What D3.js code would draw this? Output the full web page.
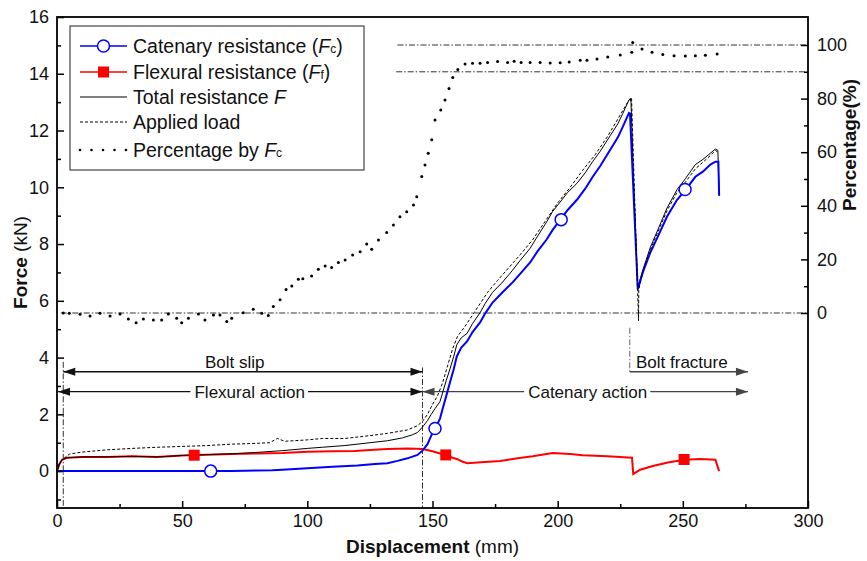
<!DOCTYPE html>
<html><head><meta charset="utf-8">
<script src="https://cdn.jsdelivr.net/npm/d3@7"></script>
<style>body{margin:0;background:#fff} svg{display:block} text{font-family:"Liberation Sans",Arial,sans-serif;fill:#111}</style>
</head><body><svg id="c" width="867" height="561"></svg>
<script>
// ---------------- data ----------------
const catenary = [[0,0],[10,0],[20,0],[30,0],[40,0],[50,0],[60,0],[70,0],[80,0.02],[86,0.03],[90,0.05],[100,0.1],[110,0.15],[120,0.2],[127,0.25],[132,0.28],[136,0.36],[140,0.45],[144,0.57],[146,0.72],[148,0.95],[149.5,1.25],[151,1.5],[153,1.85],[154,2.18],[155.5,2.65],[157,3.13],[158.5,3.6],[159.7,4.04],[161.5,4.35],[163.8,4.57],[166,4.9],[169,5.24],[171,5.55],[174,5.94],[178,6.3],[182,6.65],[185,6.95],[189,7.35],[192,7.75],[195.6,8.16],[198,8.5],[201,8.85],[204,9.2],[207.7,9.56],[211,9.95],[214,10.37],[217,10.75],[221,11.32],[224,11.75],[226,12.13],[228.5,12.62],[228.9,12.6],[230.3,9.8],[232,6.4],[234,7.0],[237,7.7],[240,8.26],[243.7,8.97],[247.7,9.56],[251,9.9],[255,10.37],[258,10.55],[261,10.8],[263,10.9],[264.2,10.9],[264.5,9.7]];
const flexural = [[0,0],[1,0.25],[2,0.4],[4,0.47],[10,0.5],[20,0.5],[30,0.52],[40,0.5],[50,0.55],[55,0.57],[60,0.58],[70,0.6],[80,0.62],[90,0.64],[100,0.68],[110,0.7],[119,0.71],[125,0.74],[132,0.78],[140,0.8],[146,0.78],[150,0.7],[153,0.62],[155,0.58],[158,0.47],[160,0.42],[162,0.33],[164,0.28],[168,0.3],[177,0.36],[184,0.45],[190,0.52],[198,0.64],[205,0.6],[210,0.56],[220,0.52],[228,0.48],[229.7,0.47],[230.2,-0.1],[233,0.05],[238,0.18],[244,0.3],[250.5,0.4],[257,0.43],[263,0.4],[264.5,0.0]];
const total = [[0,0],[1,0.25],[2,0.4],[4,0.47],[10,0.5],[20,0.5],[30,0.52],[40,0.5],[50,0.55],[60,0.58],[70,0.61],[80,0.66],[90,0.72],[100,0.8],[106,0.84],[115,0.9],[125,1.0],[132,1.07],[138,1.17],[142,1.28],[144,1.36],[146,1.55],[148,1.78],[149.5,2.0],[151,2.2],[153,2.45],[154,2.75],[155.5,3.2],[157,3.6],[158.5,4.05],[159.7,4.45],[161.5,4.7],[163.8,4.85],[166,5.2],[169,5.58],[171,5.9],[174,6.3],[178,6.66],[182,7.08],[185,7.42],[189,7.85],[192,8.28],[195.6,8.78],[198,9.15],[201,9.48],[204,9.82],[207.7,10.14],[211,10.51],[214,10.91],[217,11.27],[221,11.82],[224,12.23],[226,12.6],[228.5,13.08],[229,13.12],[229.3,13.0],[230.5,9.8],[232,6.45],[234,7.08],[237,7.88],[240,8.5],[243.7,9.27],[247.7,9.92],[251,10.3],[255,10.8],[258,10.98],[261,11.2],[263,11.35],[264,11.3],[264.5,9.7]];
const applied = [[0,0],[1,0.3],[2.4,0.42],[5,0.6],[10,0.67],[20,0.75],[30,0.8],[40,0.84],[50,0.87],[60,0.9],[70,0.95],[80,0.98],[85,1.0],[88,1.15],[91,1.05],[100,1.1],[106,1.15],[115,1.15],[125,1.25],[132,1.33],[140,1.45],[144,1.6],[146,1.75],[148,2.0],[150,2.35],[152,2.65],[154,3.1],[156,3.7],[158,4.3],[160,4.75],[163,5.1],[166,5.5],[169,5.9],[172,6.3],[176,6.72],[180,7.12],[185,7.62],[190,8.15],[195,8.8],[200,9.45],[205,10.0],[210,10.6],[215,11.15],[220,11.8],[225,12.55],[228,13.0],[229.5,13.17],[232.3,5.3],[232.4,6.4],[234,7.03],[237,7.8],[240,8.42],[243.7,9.18],[247.7,9.82],[251,10.18],[255,10.65],[258,10.88],[261,11.12],[263,11.3],[263.8,11.25]];
const percentage = [[2.5,0],[4.9,-0.1],[9.2,-0.5],[13.2,-1.1],[17.2,-0.1],[21.2,-1.1],[25.2,-0.4],[28.5,-2.2],[31.6,-3.6],[34.5,-2.2],[38.5,-2.6],[41.8,-2.6],[44.5,-0.4],[47.8,-2.0],[49.8,-3.6],[52.5,-2.0],[56.5,-0.4],[59.1,-2.6],[62.5,-0.7],[65.1,-0.7],[67.8,-3.2],[69.8,-2.0],[74.4,0.1],[78.4,1.4],[81.8,-0.1],[84.4,-0.9],[86.4,2.4],[89.1,4.9],[91.5,8.8],[93.8,10.1],[96.4,12.6],[98.2,12.8],[101.7,13.8],[104.4,16.3],[107.1,17.5],[109.7,17.0],[112.4,18.8],[115.1,19.8],[118.1,21.6],[121.1,22.9],[123.7,25.7],[125.7,23.8],[128.4,27.2],[131.7,30.0],[134.4,32.8],[137.0,35.9],[139.7,37.8],[142.4,40.3],[143.7,43.4],[145.7,50.9],[147.0,55.2],[148.3,59.6],[149.7,64.6],[151.0,72.0],[153.3,75.7],[155.0,79.5],[156.6,83.8],[158.1,87.9],[160.1,90.9],[163,92.9],[166,93.2],[169,93.2],[172,93.5],[176,93.8],[180,93.5],[182.6,93.9],[185.4,93.5],[189,93.5],[193,93.5],[197,93.3],[201,93.4],[204.6,93.7],[209,94.3],[211.7,94.3],[215.7,94.8],[220,95.5],[225,96.3],[229.6,97.3],[230,100.9],[233.7,98.5],[237.7,97.3],[242,96.5],[246.5,96],[251,95.9],[255,96],[259,96.2],[263.7,96.6]];
const catenaryMarkers = [[61.4,0],[151,1.5],[201.4,8.86],[250.9,9.92]];
const flexuralMarkers = [[54.8,0.56],[155.3,0.57],[250.5,0.41]];
const xTicks = [0,50,100,150,200,250,300];
const xMinor = [25,75,125,175,225,275];
const yTicks = [0,2,4,6,8,10,12,14,16];
const yMinor = [-1,1,3,5,7,9,11,13,15];
const pTicks = [0,20,40,60,80,100];
const pMinor = [10,30,50,70,90];
const legendLabels = ["Catenary resistance (", "Flexural resistance (", "Total resistance ", "Applied load", "Percentage by "];

// ---------------- layout ----------------
const svg = d3.select("#c");
const L = 57, R = 808, T = 17, B = 508;
const x = d3.scaleLinear().domain([0,300]).range([L,R]);
const y = d3.scaleLinear().domain([-1.3,16]).range([B,T]);
const yp = d3.scaleLinear().domain([(313-508)/2.68, (313-17)/2.68]).range([B,T]);

const line = d3.line().x(d=>x(d[0])).y(d=>y(d[1]));
const dashDot = "6,2,1.5,2";

// reference dash-dot lines
const ref = svg.append("g").attr("stroke","#333").attr("stroke-width",1).attr("stroke-dasharray",dashDot).attr("fill","none");
ref.append("line").attr("x1",x(136)).attr("x2",R).attr("y1",yp(100)).attr("y2",yp(100));
ref.append("line").attr("x1",x(135.5)).attr("x2",R).attr("y1",yp(90)).attr("y2",yp(90));
ref.append("line").attr("x1",x(1.5)).attr("x2",R).attr("y1",yp(0)).attr("y2",yp(0));
ref.append("line").attr("x1",x(2.5)).attr("x2",x(2.5)).attr("y1",y(3.85)).attr("y2",B);
ref.append("line").attr("x1",x(146)).attr("x2",x(146)).attr("y1",y(3.65)).attr("y2",B);
ref.append("line").attr("x1",x(228.8)).attr("x2",x(228.8)).attr("y1",y(5.05)).attr("y2",y(3.45)).attr("stroke","#666");

// annotations
function arrowHead(g, xt, yy, dir, col){
  g.append("path").attr("d",`M${xt},${yy} L${xt-dir*12},${yy-4} L${xt-dir*12},${yy+4} Z`).attr("fill",col);
}
function annot(x1, x2, yv, label, cx, above, headL, headR, col, gapped){
  const g = svg.append("g");
  const yy = y(yv);
  const t = g.append("text").attr("x",cx).attr("y",above ? yy-4 : yy+6).attr("text-anchor","middle").attr("font-size",17).text(label);
  if(gapped){
    const w = t.node().getComputedTextLength();
    g.append("line").attr("x1",x1).attr("x2",cx-w/2-4).attr("y1",yy).attr("y2",yy).attr("stroke",col).attr("stroke-width",1.3);
    g.append("line").attr("x1",cx+w/2+3).attr("x2",x2).attr("y1",yy).attr("y2",yy).attr("stroke",col).attr("stroke-width",1.3);
  } else {
    g.append("line").attr("x1",x1).attr("x2",x2).attr("y1",yy).attr("y2",yy).attr("stroke",col).attr("stroke-width",1.3);
  }
  if(headL) arrowHead(g,x1,yy,-1,col);
  if(headR) arrowHead(g,x2,yy,1,col);
}
annot(x(2.5), x(146), 3.5, "Bolt slip", x(71), true, true, true, "#111", false);
annot(x(0.4), x(146), 2.8, "Flexural action", x(77), false, true, true, "#111", true);
annot(x(146), x(276), 2.8, "Catenary action", x(212), false, true, true, "#444", true);
annot(x(228.8), x(276), 3.5, "Bolt fracture", x(249.6), true, false, true, "#444", false);

// series
svg.append("path").datum(flexural).attr("d",line).attr("fill","none").attr("stroke","#ff0000").attr("stroke-width",2);
svg.append("path").datum(total).attr("d",line).attr("fill","none").attr("stroke","#000").attr("stroke-width",1);
svg.append("path").datum(catenary).attr("d",line).attr("fill","none").attr("stroke","#0000ff").attr("stroke-width",2);
svg.append("path").datum(applied).attr("d",line).attr("fill","none").attr("stroke","#000").attr("stroke-width",1).attr("stroke-dasharray","3,2");
svg.append("g").selectAll("circle").data(percentage).join("circle")
  .attr("cx",d=>x(d[0])).attr("cy",d=>yp(d[1])).attr("r",1.5).attr("fill","#000");
svg.append("g").selectAll("rect").data(flexuralMarkers).join("rect")
  .attr("x",d=>x(d[0])-5.5).attr("y",d=>y(d[1])-5.5).attr("width",11).attr("height",11).attr("fill","#ff0000");
svg.append("g").selectAll("circle").data(catenaryMarkers).join("circle")
  .attr("cx",d=>x(d[0])).attr("cy",d=>y(d[1])).attr("r",6).attr("fill","#fff").attr("stroke","#0000ff").attr("stroke-width",1.5);

// axes
function styleAxis(g){ g.select(".domain").remove(); g.selectAll("line").attr("stroke","#000").attr("stroke-width",1.5); g.selectAll("text").attr("font-size",18).attr("font-family","Liberation Sans, Arial, sans-serif").attr("fill","#111"); }
svg.append("g").attr("transform",`translate(${L},0)`).call(d3.axisLeft(y).tickValues(yTicks).tickSize(-7).tickPadding(8).tickFormat(d3.format("d"))).call(styleAxis);
svg.append("g").attr("transform",`translate(${L},0)`).call(d3.axisLeft(y).tickValues(yMinor).tickSize(-4).tickFormat("")).call(styleAxis);
svg.append("g").attr("transform",`translate(0,${B})`).call(d3.axisBottom(x).tickValues(xTicks).tickSize(-7).tickPadding(6).tickFormat(d3.format("d"))).call(styleAxis);
svg.append("g").attr("transform",`translate(0,${B})`).call(d3.axisBottom(x).tickValues(xMinor).tickSize(-4).tickFormat("")).call(styleAxis);
svg.append("g").attr("transform",`translate(${R},0)`).call(d3.axisRight(yp).tickValues(pTicks).tickSize(-7).tickPadding(9).tickFormat(d3.format("d"))).call(styleAxis);
svg.append("g").attr("transform",`translate(${R},0)`).call(d3.axisRight(yp).tickValues(pMinor).tickSize(-4).tickFormat("")).call(styleAxis);

// frame
svg.append("rect").attr("x",L).attr("y",T).attr("width",R-L).attr("height",B-T).attr("fill","none").attr("stroke","#000").attr("stroke-width",1.8);

// axis titles
svg.append("text").attr("transform",`translate(27,${(T+B)/2}) rotate(-90)`).attr("text-anchor","middle").attr("font-size",19)
  .call(t=>{t.append("tspan").attr("font-weight","bold").text("Force"); t.append("tspan").text(" (kN)");});
svg.append("text").attr("x",(L+R)/2).attr("y",553).attr("text-anchor","middle").attr("font-size",19)
  .call(t=>{t.append("tspan").attr("font-weight","bold").text("Displacement"); t.append("tspan").text(" (mm)");});
svg.append("text").attr("transform",`translate(856,145) rotate(-90)`).attr("text-anchor","middle").attr("font-size",19).attr("font-weight","bold").text("Percentage(%)");

// legend
const lg = svg.append("g");
lg.append("rect").attr("x",70).attr("y",26).attr("width",294).attr("height",144).attr("fill","#fff").attr("stroke","#444").attr("stroke-width",1.2);
const rowY = [46,72,97,122,150];
const lx1 = 80, lx2 = 127, tx = 133, fs = 19.5;
lg.append("line").attr("x1",lx1).attr("x2",lx2).attr("y1",rowY[0]).attr("y2",rowY[0]).attr("stroke","#0000ff").attr("stroke-width",1.5);
lg.append("circle").attr("cx",(lx1+lx2)/2).attr("cy",rowY[0]).attr("r",6).attr("fill","#fff").attr("stroke","#0000ff").attr("stroke-width",1.5);
lg.append("line").attr("x1",lx1).attr("x2",lx2).attr("y1",rowY[1]).attr("y2",rowY[1]).attr("stroke","#ff0000").attr("stroke-width",1.5);
lg.append("rect").attr("x",(lx1+lx2)/2-5.5).attr("y",rowY[1]-5.5).attr("width",11).attr("height",11).attr("fill","#ff0000");
lg.append("line").attr("x1",lx1).attr("x2",lx2).attr("y1",rowY[2]).attr("y2",rowY[2]).attr("stroke","#000").attr("stroke-width",1);
lg.append("line").attr("x1",lx1).attr("x2",lx2).attr("y1",rowY[3]).attr("y2",rowY[3]).attr("stroke","#000").attr("stroke-width",1).attr("stroke-dasharray","3,2");
[80,91.5,103,114.5,126].forEach(cx=>lg.append("circle").attr("cx",cx).attr("cy",rowY[4]).attr("r",1.3).attr("fill","#000"));
function sub(t, label, s){ t.append("tspan").text(label); t.append("tspan").attr("font-style","italic").text("F"); if(s){ t.append("tspan").attr("font-size",12).text(s); } }
lg.append("text").attr("x",tx).attr("y",rowY[0]+7).attr("font-size",fs).call(t=>{sub(t,legendLabels[0],"c"); t.append("tspan").text(")");});
lg.append("text").attr("x",tx).attr("y",rowY[1]+7).attr("font-size",fs).call(t=>{sub(t,legendLabels[1],"f"); t.append("tspan").text(")");});
lg.append("text").attr("x",tx).attr("y",rowY[2]+7).attr("font-size",fs).call(t=>{sub(t,legendLabels[2],null);});
lg.append("text").attr("x",tx).attr("y",rowY[3]+7).attr("font-size",fs).text(legendLabels[3]);
lg.append("text").attr("x",tx).attr("y",rowY[4]+7).attr("font-size",fs).call(t=>{sub(t,legendLabels[4],"c");});
</script></body></html>
